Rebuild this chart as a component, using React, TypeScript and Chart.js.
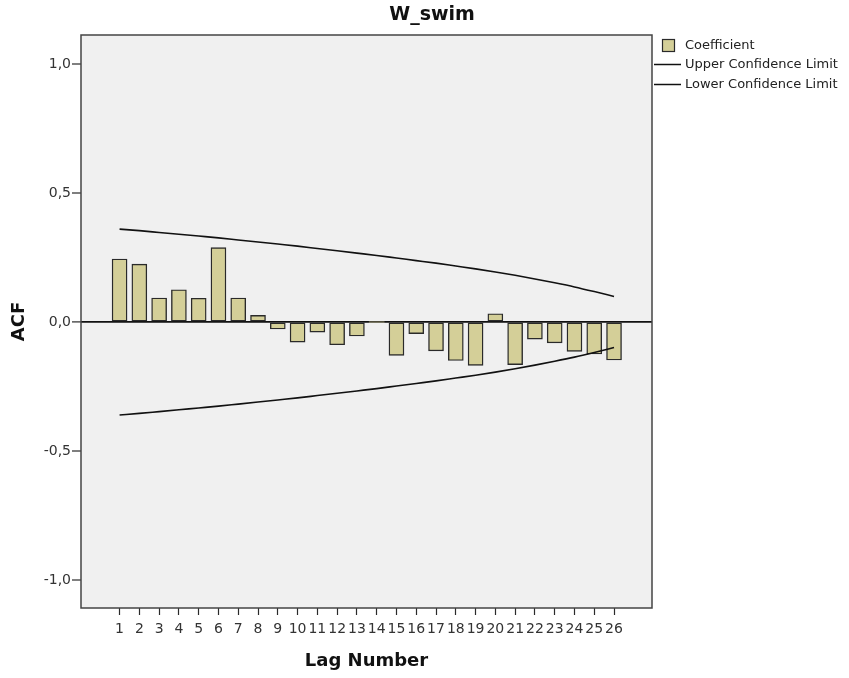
import React, { useEffect, useRef } from "react";
import { Chart, registerables } from "chart.js";

Chart.register(...registerables);

// Autocorrelation of W_swim by lag
const lags = [1, 2, 3, 4, 5, 6, 7, 8, 9, 10, 11, 12, 13, 14, 15, 16, 17, 18, 19, 20, 21, 22, 23, 24, 25, 26];
const coefficient = [
  0.244, 0.224, 0.093, 0.125, 0.092, 0.288, 0.093, 0.026, -0.027, -0.078, -0.039, -0.088, -0.054,
  0.0, -0.129, -0.045, -0.112, -0.149, -0.168, 0.032, -0.165, -0.066, -0.081, -0.114, -0.124, -0.147,
];
const upperLimit = [
  0.36, 0.354, 0.347, 0.34, 0.333, 0.326, 0.318, 0.31, 0.302, 0.294, 0.285, 0.276, 0.267,
  0.258, 0.248, 0.238, 0.228, 0.217, 0.206, 0.194, 0.181, 0.167, 0.152, 0.136, 0.118, 0.099,
];
const lowerLimit = [
  -0.36, -0.354, -0.347, -0.34, -0.333, -0.326, -0.318, -0.31, -0.302, -0.294, -0.285, -0.276, -0.267,
  -0.258, -0.248, -0.238, -0.228, -0.217, -0.206, -0.194, -0.181, -0.167, -0.152, -0.136, -0.118, -0.099,
];
const yTicks = [-1, -0.5, 0, 0.5, 1];

const chartTitle = "W_swim";
const xTitle = "Lag Number";
const yTitle = "ACF";

const FONT = '"DejaVu Sans", "Liberation Sans", sans-serif';
const BAR_FILL = "#d4cf98";
const EDGE = "#2a2a2a";

const decorations = {
  id: "decorations",
  beforeDraw(chart: any) {
    const { ctx, chartArea: a, width, height } = chart;
    ctx.save();
    ctx.fillStyle = "#ffffff";
    ctx.fillRect(0, 0, width, height);
    ctx.fillStyle = "#f0f0f0";
    ctx.fillRect(a.left, a.top, a.right - a.left, a.bottom - a.top);
    ctx.restore();
  },
  afterDatasetsDraw(chart: any) {
    const { ctx, chartArea: a } = chart;
    ctx.save();
    ctx.strokeStyle = "#444444";
    ctx.lineWidth = 1.5;
    ctx.strokeRect(a.left, a.top, a.right - a.left, a.bottom - a.top);
    ctx.restore();
  },
  afterDraw(chart: any) {
    const { ctx, chartArea: a } = chart;
    ctx.save();
    ctx.fillStyle = "#111111";
    ctx.textAlign = "center";
    ctx.textBaseline = "middle";

    ctx.font = `bold 19px ${FONT}`;
    ctx.fillText(chartTitle, 432, 15);

    ctx.font = `bold 18px ${FONT}`;
    ctx.fillText(xTitle, (a.left + a.right) / 2, 661);

    ctx.save();
    ctx.translate(19, (a.top + a.bottom) / 2);
    ctx.rotate(-Math.PI / 2);
    ctx.fillText(yTitle, 0, 0);
    ctx.restore();

    // legend
    const ds = chart.data.datasets;
    const lx = a.right + 2;
    const tx = a.right + 33;
    ctx.font = `13px ${FONT}`;
    ctx.textAlign = "left";

    ctx.fillStyle = ds[0].backgroundColor;
    ctx.fillRect(lx + 8, 39.5, 12, 12);
    ctx.strokeStyle = EDGE;
    ctx.lineWidth = 1.2;
    ctx.strokeRect(lx + 8.5, 39.5, 12, 12);
    ctx.fillStyle = "#222222";
    ctx.fillText(ds[0].label, tx, 46);

    [1, 2].forEach((i, k) => {
      const y = 64.5 + k * 20;
      ctx.strokeStyle = ds[i].borderColor;
      ctx.lineWidth = 1.5;
      ctx.beginPath();
      ctx.moveTo(lx, y);
      ctx.lineTo(lx + 27, y);
      ctx.stroke();
      ctx.fillText(ds[i].label, tx, y);
    });
    ctx.restore();
  },
};

export default function App() {
  const ref = useRef<HTMLCanvasElement>(null);

  useEffect(() => {
    if (!ref.current) return;
    const chart = new Chart(ref.current, {
      type: "bar",
      data: {
        datasets: [
          {
            type: "bar",
            label: "Coefficient",
            data: lags.map((l, i) => ({ x: l, y: coefficient[i] })),
            backgroundColor: BAR_FILL,
            borderColor: EDGE,
            borderWidth: (c: any) => (c.raw && Math.abs(c.raw.y) < 0.005 ? 0 : 1.4),
            borderSkipped: false,
            barThickness: 15,
            order: 2,
          } as any,
          {
            type: "line",
            label: "Upper Confidence Limit",
            data: lags.map((l, i) => ({ x: l, y: upperLimit[i] })),
            borderColor: "#111111",
            borderWidth: 1.6,
            pointRadius: 0,
            fill: false,
            cubicInterpolationMode: "monotone",
            order: 1,
          },
          {
            type: "line",
            label: "Lower Confidence Limit",
            data: lags.map((l, i) => ({ x: l, y: lowerLimit[i] })),
            borderColor: "#111111",
            borderWidth: 1.6,
            pointRadius: 0,
            fill: false,
            cubicInterpolationMode: "monotone",
            order: 1,
          },
        ],
      },
      options: {
        responsive: false,
        animation: false,
        devicePixelRatio: 1,
        layout: { padding: { left: 0, right: 197, top: 35, bottom: 0 } },
        plugins: {
          legend: { display: false },
          tooltip: { enabled: false },
          title: { display: false },
        },
        scales: {
          x: {
            type: "linear",
            min: -0.95,
            max: 27.92,
            offset: false,
            afterBuildTicks: (s: any) => {
              s.ticks = lags.map((v) => ({ value: v }));
            },
            afterFit: (s: any) => {
              s.height = 70;
            },
            grid: {
              offset: false,
              drawOnChartArea: false,
              drawTicks: true,
              tickLength: 7,
              tickColor: EDGE,
              tickWidth: 1.2,
            },
            border: { display: false },
            ticks: {
              autoSkip: false,
              maxRotation: 0,
              minRotation: 0,
              padding: 6,
              color: "#333333",
              font: { family: FONT, size: 14 },
              callback: (v: any) => String(v),
            },
          },
          y: {
            type: "linear",
            min: -1.108,
            max: 1.112,
            afterBuildTicks: (s: any) => {
              s.ticks = yTicks.map((v) => ({ value: v }));
            },
            afterFit: (s: any) => {
              s.width = 81;
            },
            grid: {
              drawOnChartArea: true,
              drawTicks: true,
              tickLength: 9,
              tickColor: EDGE,
              tickWidth: 1.2,
              color: (c: any) => (c.tick && c.tick.value === 0 ? "#111111" : "rgba(0,0,0,0)"),
              lineWidth: (c: any) => (c.tick && c.tick.value === 0 ? 1.8 : 0),
            },
            border: { display: false },
            ticks: {
              padding: 1,
              color: "#333333",
              font: { family: FONT, size: 14 },
              callback: (v: any) => Number(v).toFixed(1).replace(".", ","),
            },
          },
        },
      },
      plugins: [decorations],
    });
    return () => chart.destroy();
  }, []);

  return (
    <div style={{ position: "absolute", left: 0, top: 0, width: 849, height: 678 }}>
      <canvas ref={ref} width={849} height={678} style={{ display: "block" }} />
    </div>
  );
}
